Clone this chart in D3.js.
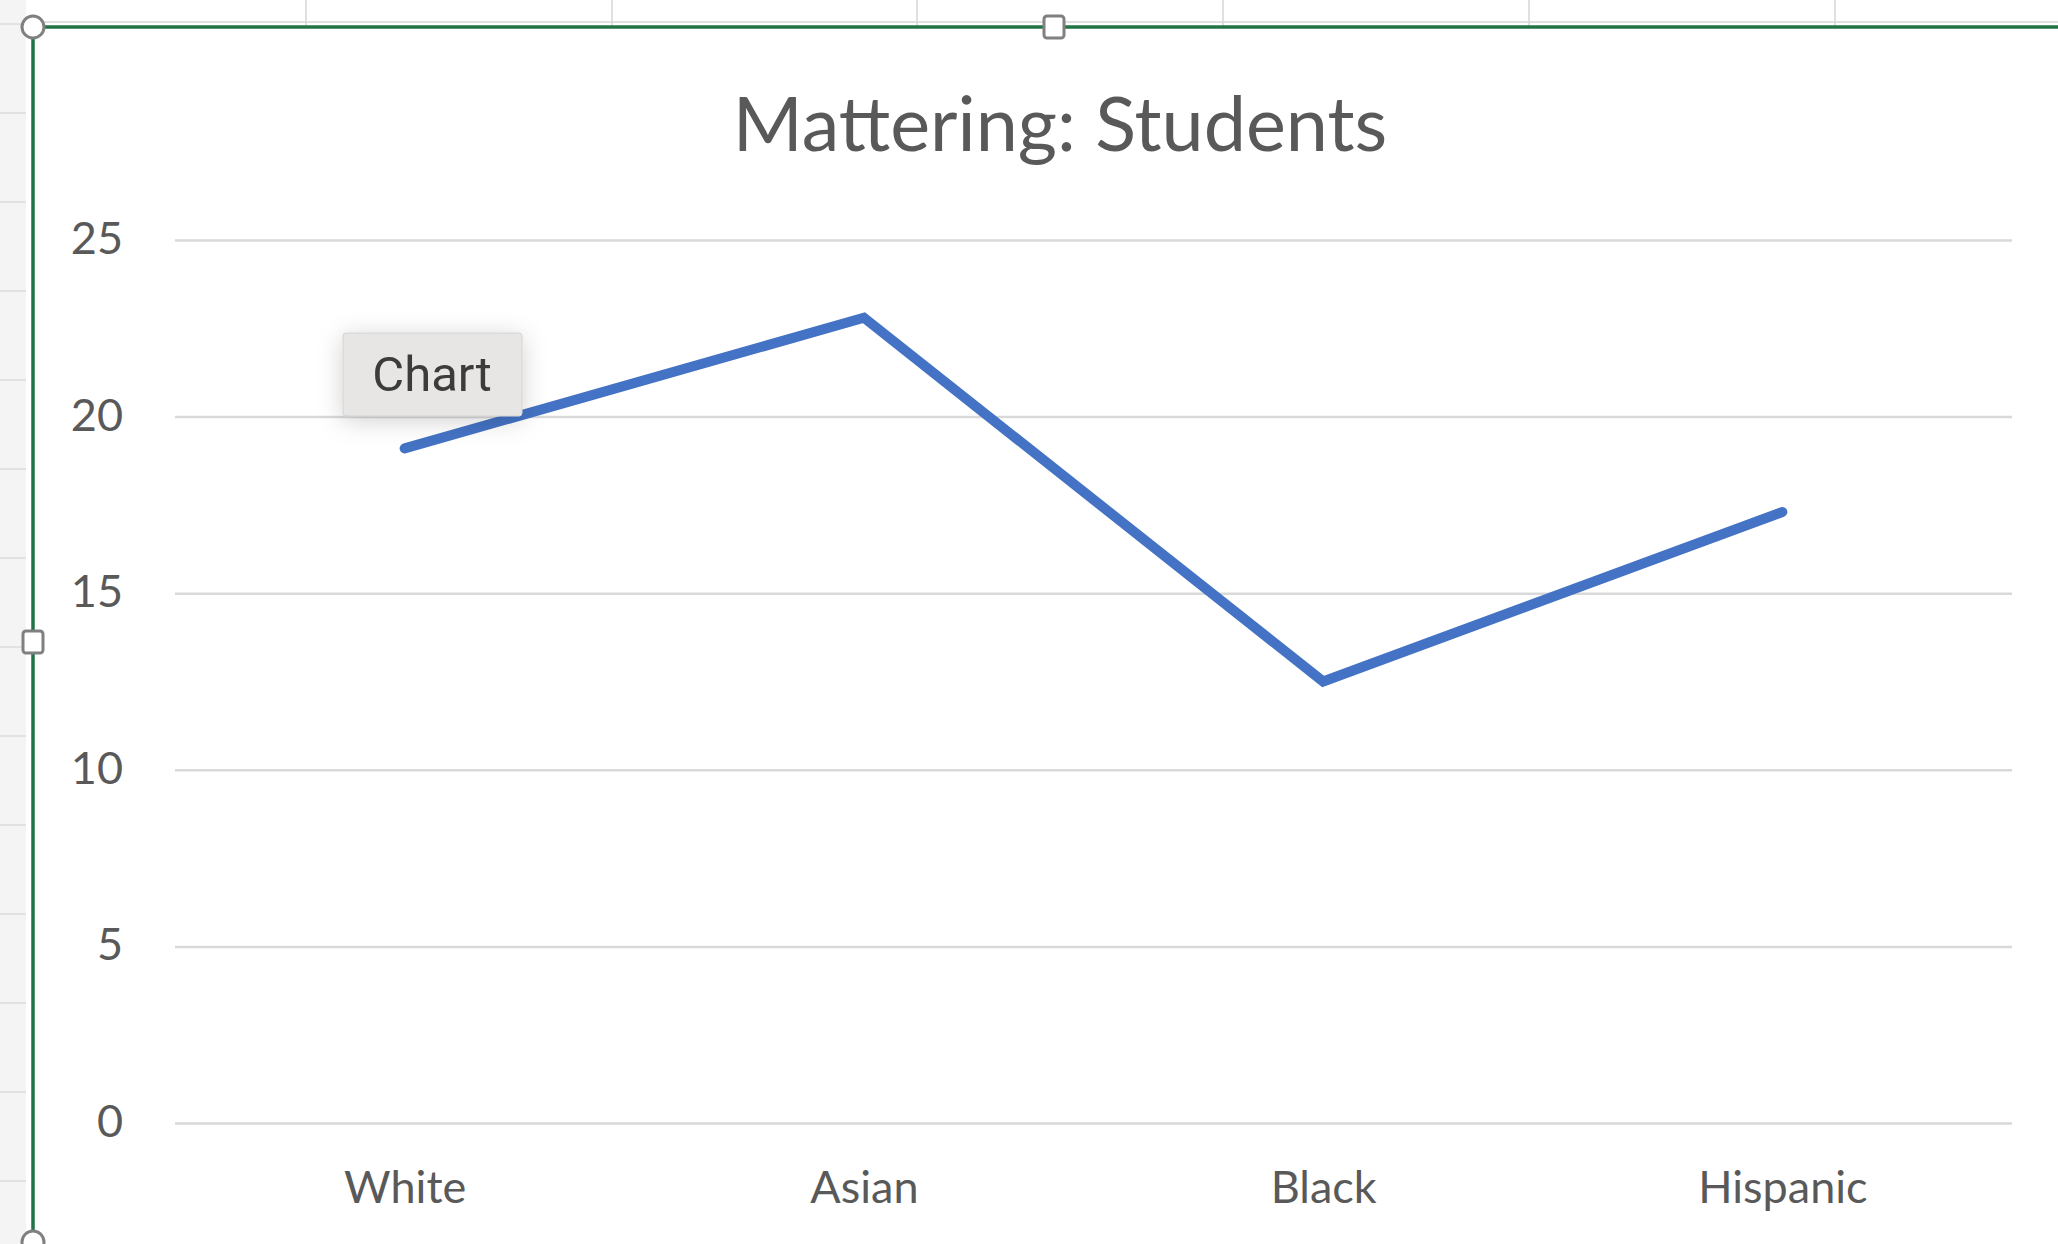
<!DOCTYPE html>
<html>
<head>
<meta charset="utf-8">
<script src="https://cdn.jsdelivr.net/npm/d3@7"></script>
<style>
	html, body { margin: 0; padding: 0; background: #fff; }
	svg { display: block; }
</style>
</head>
<body>
<div id="graphic"></div>
<script>

// chart data
const categories = [ "White", "Asian", "Black", "Hispanic" ];
const values = [ 19.1, 22.8, 12.5, 17.3 ];
const y_ticks = [ 0, 5, 10, 15, 20, 25 ];
const title = "Mattering: Students";
const sheet_cols = [ 306, 612, 917, 1223, 1529, 1835 ];	// spreadsheet column lines behind the chart

///////////////////////////////////////////////////////////////////////

const width = 2058, height = 1244;
const font = "Lato, 'Open Sans', sans-serif";

let svg = d3.select( "#graphic" )
	.append( "svg" )
		.attr( "width", width )
		.attr( "height", height );

let defs = svg.append( "defs" );
let shadow = defs.append( "filter" )
	.attr( "id", "shadow" )
	.attr( "x", "-40%" ).attr( "y", "-60%" )
	.attr( "width", "180%" ).attr( "height", "220%" );
shadow.append( "feDropShadow" )
	.attr( "dx", 0 ).attr( "dy", 4 )
	.attr( "stdDeviation", 12 )
	.attr( "flood-color", "#000" )
	.attr( "flood-opacity", 0.18 );

// spreadsheet bits around the chart object
svg.append( "rect" )
	.attr( "x", 0 ).attr( "y", 0 )
	.attr( "width", 26 ).attr( "height", height )
	.attr( "fill", "#f4f4f4" );

svg.append( "g" )
	.selectAll( "line" )
	.data( d3.range( 24, height, 89 ) )
	.join( "line" )
		.attr( "x1", 0 ).attr( "x2", 26 )
		.attr( "y1", d => d ).attr( "y2", d => d )
		.attr( "stroke", "#dcdcdc" )
		.attr( "stroke-width", 1.5 );

svg.append( "g" )
	.selectAll( "line" )
	.data( sheet_cols )
	.join( "line" )
		.attr( "x1", d => d ).attr( "x2", d => d )
		.attr( "y1", 0 ).attr( "y2", 27 )
		.attr( "stroke", "#d6d6d6" )
		.attr( "stroke-width", 1.5 );

svg.append( "line" )
	.attr( "x1", 26 ).attr( "x2", width )
	.attr( "y1", 22 ).attr( "y2", 22 )
	.attr( "stroke", "#d6d6d6" )
	.attr( "stroke-width", 1.5 );

// chart area
svg.append( "rect" )
	.attr( "x", 33 ).attr( "y", 27 )
	.attr( "width", width - 33 ).attr( "height", height - 27 )
	.attr( "fill", "#fff" );

let x = d3.scalePoint()
	.domain( categories )
	.range( [ 175, 2012 ] )
	.padding( 0.5 );

let y = d3.scaleLinear()
	.domain( [ 0, 25 ] )
	.range( [ 1123, 240 ] );

// gridlines + y labels
let y_axis = svg.append( "g" )
	.attr( "transform", "translate(175,0)" )
	.call( d3.axisLeft( y )
		.tickValues( y_ticks )
		.tickSize( -( 2012 - 175 ) )
		.tickPadding( 52 ) );

y_axis.select( ".domain" ).remove();
y_axis.selectAll( ".tick line" )
	.attr( "stroke", "#d9d9d9" )
	.attr( "stroke-width", 2.5 );
y_axis.selectAll( ".tick text" )
	.attr( "fill", "#595959" )
	.attr( "font-family", font )
	.attr( "font-size", 45 )
	.attr( "dy", "0.3em" );

// x labels
let x_axis = svg.append( "g" )
	.attr( "transform", "translate(0,1123)" )
	.call( d3.axisBottom( x ).tickSize( 0 ).tickPadding( 48 ) );

x_axis.select( ".domain" ).remove();
x_axis.selectAll( ".tick text" )
	.attr( "fill", "#595959" )
	.attr( "font-family", font )
	.attr( "font-size", 45 )
	.attr( "dy", "0.71em" );

// title
svg.append( "text" )
	.attr( "x", 1060 )
	.attr( "y", 151 )
	.attr( "text-anchor", "middle" )
	.attr( "fill", "#595959" )
	.attr( "font-family", font )
	.attr( "font-size", 75.5 )
	.text( title );

// the series
let line = d3.line()
	.x( ( d, i ) => x( categories[ i ] ) )
	.y( d => y( d ) );

svg.append( "path" )
	.datum( values )
	.attr( "d", line )
	.attr( "fill", "none" )
	.attr( "stroke", "#4472c4" )
	.attr( "stroke-width", 10 )
	.attr( "stroke-linecap", "round" )
	.attr( "stroke-linejoin", "miter" );

// "Chart" tooltip
let tip = svg.append( "g" );
tip.append( "rect" )
	.attr( "x", 343 ).attr( "y", 333 )
	.attr( "width", 179 ).attr( "height", 83 )
	.attr( "rx", 3 )
	.attr( "fill", "#e7e6e5" )
	.attr( "stroke", "#d2d2d2" )
	.attr( "stroke-width", 1 )
	.attr( "filter", "url(#shadow)" );
tip.append( "text" )
	.attr( "x", 432 ).attr( "y", 391 )
	.attr( "text-anchor", "middle" )
	.attr( "fill", "#3c3c3c" )
	.attr( "font-family", "Roboto, Inter, sans-serif" )
	.attr( "font-size", 49 )
	.text( "Chart" );

// selection frame
svg.append( "line" )
	.attr( "x1", 33 ).attr( "x2", width )
	.attr( "y1", 27 ).attr( "y2", 27 )
	.attr( "stroke", "#217346" )
	.attr( "stroke-width", 3.5 );
svg.append( "line" )
	.attr( "x1", 33 ).attr( "x2", 33 )
	.attr( "y1", 27 ).attr( "y2", height )
	.attr( "stroke", "#217346" )
	.attr( "stroke-width", 3.5 );

let handles = svg.append( "g" )
	.attr( "fill", "#fff" )
	.attr( "stroke", "#808080" )
	.attr( "stroke-width", 3 );

handles.selectAll( "circle" )
	.data( [ [ 33, 27 ], [ 33, 1242 ] ] )
	.join( "circle" )
		.attr( "cx", d => d[ 0 ] )
		.attr( "cy", d => d[ 1 ] )
		.attr( "r", 11 );

handles.selectAll( "rect" )
	.data( [ [ 1054, 27 ], [ 33, 642 ] ] )
	.join( "rect" )
		.attr( "x", d => d[ 0 ] - 10 )
		.attr( "y", d => d[ 1 ] - 11 )
		.attr( "width", 20 )
		.attr( "height", 22 )
		.attr( "rx", 3 );

</script>
</body>
</html>
